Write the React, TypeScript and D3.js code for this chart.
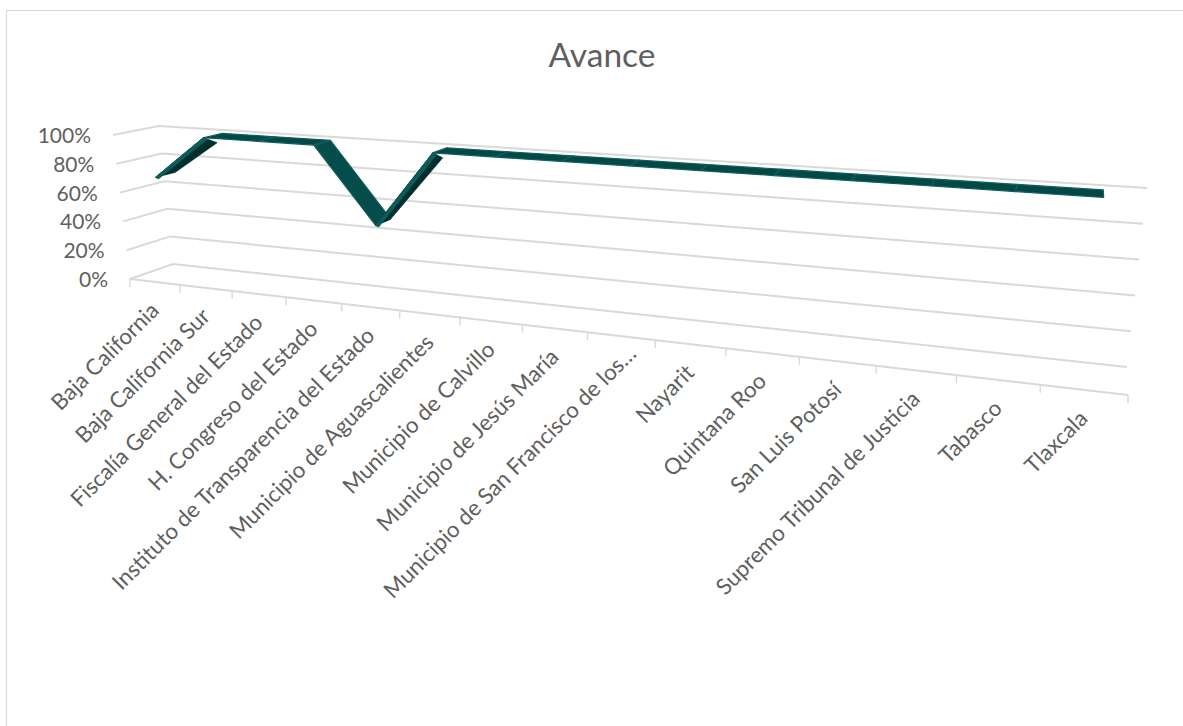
import React from "react";
import * as d3 from "d3";

const categories = [
  "Baja California",
  "Baja California Sur",
  "Fiscalía General del Estado",
  "H. Congreso del Estado",
  "Instituto de Transparencia del Estado",
  "Municipio de Aguascalientes",
  "Municipio de Calvillo",
  "Municipio de Jesús María",
  "Municipio de San Francisco de los…",
  "Nayarit",
  "Quintana Roo",
  "San Luis Potosí",
  "Supremo Tribunal de Justicia",
  "Tabasco",
  "Tlaxcala",
];
const avance = [0.7, 1, 1, 1, 0.5, 1, 1, 1, 1, 1, 1, 1, 1, 1, 1];
const valueTicks = [0, 0.2, 0.4, 0.6, 0.8, 1];
const title = "Avance";

const W = 1183;
const H = 726;
const FONT = "Lato, 'Open Sans', sans-serif";
const GRID = "#d9d9d9";
const TEXT = "#5f5f5f";

// Projection of the 3-D plot box: corners of the box on the screen.
const scaleU = (t: number) => {
  const k = 1.35;
  return t / (t + k * (1 - t));
};
const frontX0 = d3.scaleLinear([0, 1], [130, 1128]);
const frontY0 = d3.scaleLinear([0, 1], [279, 395]);
const frontX1 = d3.scaleLinear([0, 1], [113, 1150]);
const frontY1 = d3.scaleLinear([0, 1], [135, 205]);
const backX0 = d3.scaleLinear([0, 1], [173, 1127]);
const backY0 = d3.scaleLinear([0, 1], [264, 367]);
const backX1 = d3.scaleLinear([0, 1], [159, 1147]);
const backY1 = d3.scaleLinear([0, 1], [126, 188]);

type P = [number, number];
const project = (t: number, v: number, d: number): P => {
  const u = scaleU(t);
  const fx = d3.interpolateNumber(frontX0(u), frontX1(u))(v);
  const fy = d3.interpolateNumber(frontY0(u), frontY1(u))(v);
  const bx = d3.interpolateNumber(backX0(u), backX1(u))(v);
  const by = d3.interpolateNumber(backY0(u), backY1(u))(v);
  return [fx + (bx - fx) * d, fy + (by - fy) * d];
};

const line = d3.line<P>();
const closed = (pts: P[]) => (line(pts) ?? "") + "Z";

const n = categories.length;
const tSlot = d3.scaleLinear([0, n], [0, 1]);
const tPoint = (i: number) => tSlot(i + 0.5);
const D_FRONT = 0.27;
const D_BACK = 0.72;

export default function App() {
  const segments = d3.pairs(avance.map((v, i) => ({ v, i })));
  const order = [
    ...segments.filter(([a, b]) => b.v <= a.v),
    ...segments.filter(([a, b]) => b.v > a.v),
  ];

  return (
    <svg
      width={W}
      height={H}
      viewBox={`0 0 ${W} ${H}`}
      style={{ position: "absolute", left: 0, top: 0, display: "block", background: "#fff" }}
    >
      <path d={`M6.5 ${H + 5}V10.5H${W + 5}`} fill="none" stroke={GRID} strokeWidth={1.2} />

      <text x={602} y={67} textAnchor="middle" fontFamily={FONT} fontSize={33.5} fill={TEXT}>
        {title}
      </text>

      {/* walls */}
      {valueTicks.map((v) => (
        <path
          key={v}
          d={line([project(0, v, 0), project(0, v, 1), project(1, v, 1)]) ?? ""}
          fill="none"
          stroke={GRID}
          strokeWidth={2}
        />
      ))}
      {/* floor front edge + ticks */}
      <path d={line([project(0, 0, 0), project(1, 0, 0)]) ?? ""} fill="none" stroke={GRID} strokeWidth={2} />
      {d3.range(n + 1).map((i) => {
        const [x, y] = project(tSlot(i), 0, 0);
        return <line key={i} x1={x} x2={x} y1={y} y2={y + 8} stroke={GRID} strokeWidth={1.4} />;
      })}

      {/* value axis labels */}
      {valueTicks.map((v) => {
        const [x, y] = project(0, v, 0);
        return (
          <text key={v} x={x - 22} y={y + 8} textAnchor="end" fontFamily={FONT} fontSize={21} fill={TEXT}>
            {d3.format(".0%")(v)}
          </text>
        );
      })}

      {/* category labels */}
      {categories.map((c, i) => {
        const [x, y] = project(tPoint(i), 0, 0);
        return (
          <text
            key={c}
            transform={`translate(${x + 5.5},${y + 30}) rotate(-45)`}
            x={c.endsWith("…") ? 15.5 : 0}
            textAnchor="end"
            fontFamily={FONT}
            fontSize={22.3}
            fill={TEXT}
          >
            {c}
          </text>
        );
      })}

      {/* ribbon */}
      {order.map(([a, b]) => {
        const ta = tPoint(a.i);
        const tb = tPoint(b.i);
        const f0 = project(ta, a.v, D_FRONT);
        const f1 = project(tb, b.v, D_FRONT);
        const b0 = project(ta, a.v, D_BACK);
        const b1 = project(tb, b.v, D_BACK);
        if (b.v > a.v) {
          const under = project(tb, b.v - 0.055, 0.58);
          const edge0: P = [f0[0] + 3, f0[1] + 1.5];
          const edge1: P = [f1[0] + 4, f1[1] + 1.5];
          return (
            <g key={a.i}>
              <path d={closed([f0, f1, under, b0])} fill="#012f2d" stroke="#012f2d" strokeWidth={0.8} />
              <path d={closed([f0, f1, edge1, edge0])} fill="#0c5c59" stroke="#0c5c59" strokeWidth={1} />
            </g>
          );
        }
        const falling = b.v < a.v;
        return (
          <path
            key={a.i}
            d={closed([f0, f1, b1, b0])}
            fill={falling ? "#064c4a" : "#034846"}
            stroke="#0e605d"
            strokeWidth={1.2}
            strokeLinejoin="round"
          />
        );
      })}
    </svg>
  );
}
